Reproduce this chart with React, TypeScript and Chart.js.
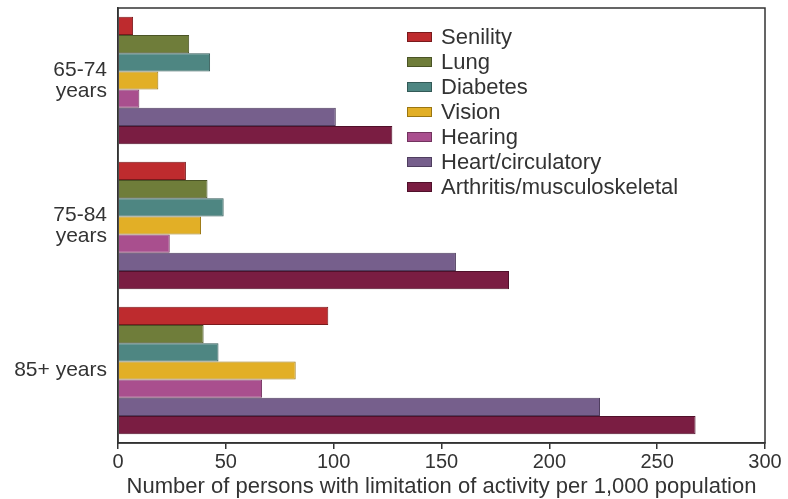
import React, { useEffect, useRef } from "react";
import { Chart, registerables } from "chart.js";

Chart.register(...registerables);

const categories: (string | string[])[] = [["65-74", "years"], ["75-84", "years"], "85+ years"];
const seriesNames = ["Senility", "Lung", "Diabetes", "Vision", "Hearing", "Heart/circulatory", "Arthritis/musculoskeletal"];
const senility = [7, 31.5, 97.5];
const lung = [33, 41.5, 39.7];
const diabetes = [42.7, 49, 46.6];
const vision = [18.7, 38.5, 82.4];
const hearing = [9.9, 24, 66.8];
const heart = [101, 156.7, 223.5];
const arthritis = [127.2, 181.3, 267.8];
const xTicks = [0, 50, 100, 150, 200, 250, 300];

const fills = ["#BE2B2E", "#6F7D3A", "#4E8682", "#E2AF26", "#A94F8E", "#765F8C", "#7A1D42"];
const borders = ["#7a1a1c", "#4a5426", "#335a57", "#9a7612", "#73335f", "#4f3e5f", "#50102a"];

const FONT = "'Liberation Sans', Arial, sans-serif";
const TEXT = "#333333";

export default function App() {
  const ref = useRef<HTMLCanvasElement | null>(null);
  useEffect(() => {
    if (!ref.current) return;
    const values = [senility, lung, diabetes, vision, hearing, heart, arthritis];
    const legendPlugin = {
      id: "customLegend",
      afterDraw(chart: any) {
        const ctx = chart.ctx;
        const ca = chart.chartArea;
        ctx.save();
        // frame
        ctx.strokeStyle = "#333";
        ctx.lineWidth = 1.5;
        ctx.strokeRect(ca.left, ca.top, ca.right - ca.left, ca.bottom - ca.top);
        // legend
        const x0 = ca.left + 289;
        const y0 = ca.top + 29;
        ctx.font = `22px ${FONT}`;
        ctx.textBaseline = "middle";
        seriesNames.forEach((name, i) => {
          const y = y0 + i * 25;
          ctx.fillStyle = fills[i];
          ctx.strokeStyle = borders[i];
          ctx.lineWidth = 1;
          ctx.fillRect(x0, y - 5, 25, 10);
          ctx.strokeRect(x0 + 0.5, y - 4.5, 24, 9);
          ctx.fillStyle = TEXT;
          ctx.fillText(name, x0 + 34, y + 1);
        });
        ctx.restore();
      },
    };
    const chart = new Chart(ref.current, {
      type: "bar",
      data: {
        labels: categories,
        datasets: seriesNames.map((name, i) => ({
          label: name,
          data: values[i],
          backgroundColor: fills[i],
          borderColor: borders[i],
          borderWidth: 1,
          categoryPercentage: 0.88,
          barPercentage: 1,
        })),
      },
      options: {
        indexAxis: "y",
        animation: false,
        responsive: false,
        maintainAspectRatio: false,
        layout: { padding: { top: 8, right: 23, left: 0, bottom: 0 } },
        plugins: { legend: { display: false }, tooltip: { enabled: false } },
        scales: {
          x: {
            min: 0,
            max: 300,
            afterFit: (s: any) => { s.height = 56; },
            afterBuildTicks: (s: any) => { s.ticks = xTicks.map((v) => ({ value: v })); },
            grid: { display: true, drawOnChartArea: false, drawTicks: true, tickLength: 6, color: "#333", lineWidth: 1.5 },
            border: { display: true, color: "#333", width: 1.5 },
            ticks: { font: { family: FONT, size: 20 }, color: TEXT, padding: 1, maxRotation: 0 },
            title: {
              display: true,
              text: "Number of persons with limitation of activity per 1,000 population",
              font: { family: FONT, size: 22, lineHeight: 1.1 },
              color: TEXT,
              padding: { top: 0, bottom: 0 },
            },
          },
          y: {
            afterFit: (s: any) => { s.width = 118; s.paddingTop = 0; s.paddingBottom = 0; },
            grid: { display: false, drawTicks: false },
            border: { display: true, color: "#333", width: 1.5 },
            ticks: { font: { family: FONT, size: 21, lineHeight: 1.0 }, color: TEXT, padding: 11 },
          },
        },
      },
      plugins: [legendPlugin],
    } as any);
    return () => chart.destroy();
  }, []);
  return (
    <div style={{ position: "absolute", left: 0, top: 0, width: 788, height: 499, background: "#fff" }}>
      <canvas ref={ref} width={788} height={499} style={{ width: 788, height: 499 }} />
    </div>
  );
}
